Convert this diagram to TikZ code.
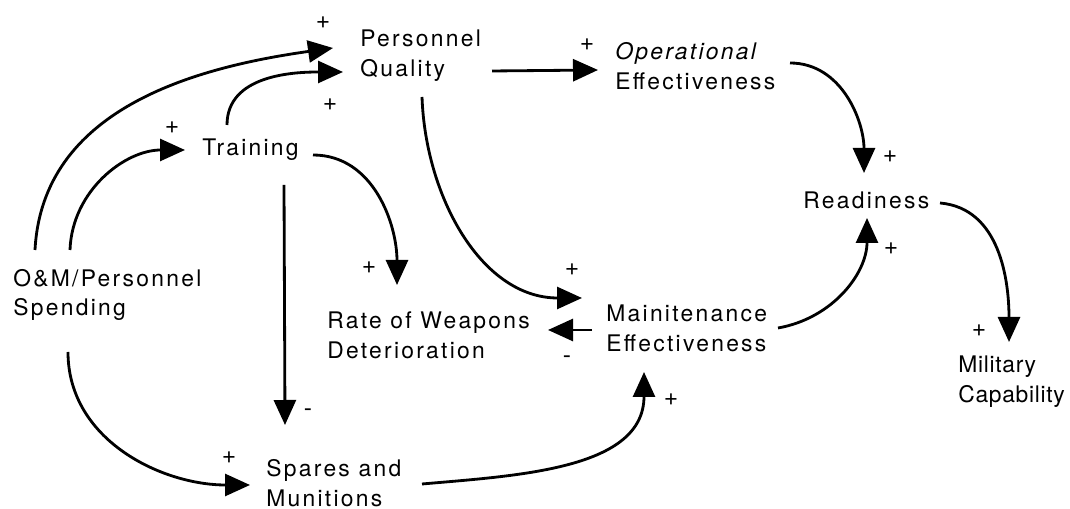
\documentclass[tikz,border=0pt]{standalone}
\usepackage{fontspec}
\setmainfont{TeX Gyre Heros}[LetterSpace=10]
\usetikzlibrary{arrows.meta}

\begin{document}
\begin{tikzpicture}[
    x=0.02cm, y=0.02cm,
    var/.style={anchor=west, align=left, inner sep=0pt, font=\fontsize{13}{17}\selectfont},
    sign/.style={inner sep=0pt, font=\fontsize{14}{14}\selectfont},
    link/.style={line width=1.6pt, -{Triangle[length=0.5cm, width=0.44cm]}}
]
\useasboundingbox (0,0) rectangle (1070,509);

% variables
\node [var] (qual)   at (360,453) {Personnel\\Quality};
\node [var] (oper)   at (615,443) {\textit{Operational}\\Effectiveness};
\node [var] (train)  at (202,359) {Training};
\node [var] (ready)  at (803,309) {Readiness};
\node [var] (spend)  at (13,214)  {O\&M/Personnel\\Spending};
\node [var] (rate)   at (327,174) {Rate of Weapons\\Deterioration};
\node [var] (maint)  at (606,181) {Mainitenance\\Effectiveness};
\node [var] (spares) at (266,26)  {Spares and\\Munitions};
\node [var, font=\fontsize{13}{17}\selectfont\addfontfeatures{LetterSpace=3}] (milit) at (958,127) {Military\\Capability};

% links
\draw [link] ([shift={(22,45)}]spend.west) to[out=87, in=188] ([shift={(-27,8)}]qual.west);
\draw [link] ([shift={(57,45)}]spend.west) to[out=88, in=180] ([shift={(-17,0)}]train.west);
\draw [link] ([shift={(25,25)}]train.west) to[out=90, in=180] ([shift={(-17,-16)}]qual.west);
\draw [link] ([shift={(132,-15)}]qual.west) -- ([shift={(-17,-4)}]oper.west);
\draw [link] ([shift={(62,-41)}]qual.west) to[out=-88, in=180] ([shift={(-24,30)}]maint.west);
\draw [link] ([shift={(111,-5)}]train.west) to[out=0, in=90] ([shift={(70,50)}]rate.west);
\draw [link] ([shift={(82,-35)}]train.west) -- ([shift={(19,58)}]spares.west);
\draw [link] ([shift={(55,-57)}]spend.west) to[out=-90, in=180] ([shift={(-16,-2)}]spares.west);
\draw [link] ([shift={(-14,-2)}]maint.west) -- ([shift={(221,5)}]rate.west);
\draw [link] ([shift={(156,-1)}]spares.west) to[out=5, in=-90] ([shift={(38,-44)}]maint.west);
\draw [link] ([shift={(172,0)}]maint.west) to[out=10, in=-90] ([shift={(64,-18)}]ready.west);
\draw [link] ([shift={(175,3)}]oper.west) to[out=0, in=90] ([shift={(61,27)}]ready.west);
\draw [link] ([shift={(137,-3)}]ready.west) to[out=-5, in=90] ([shift={(51,40)}]milit.west);

% polarities
\node [sign] (s1)  at (323,486) {+};
\node [sign] (s2)  at (172,381) {+};
\node [sign] (s3)  at (330,404) {+};
\node [sign] (s4)  at (587,464) {+};
\node [sign] (s5)  at (890,352) {+};
\node [sign] (s6)  at (891,260) {+};
\node [sign] (s7)  at (369,241) {+};
\node [sign] (s8)  at (308,96)  {-};
\node [sign] (s9)  at (229,51)  {+};
\node [sign] (s10) at (572,239) {+};
\node [sign] (s11) at (567,149) {-};
\node [sign] (s12) at (671,109) {+};
\node [sign] (s13) at (979,178) {+};
\end{tikzpicture}
\end{document}
